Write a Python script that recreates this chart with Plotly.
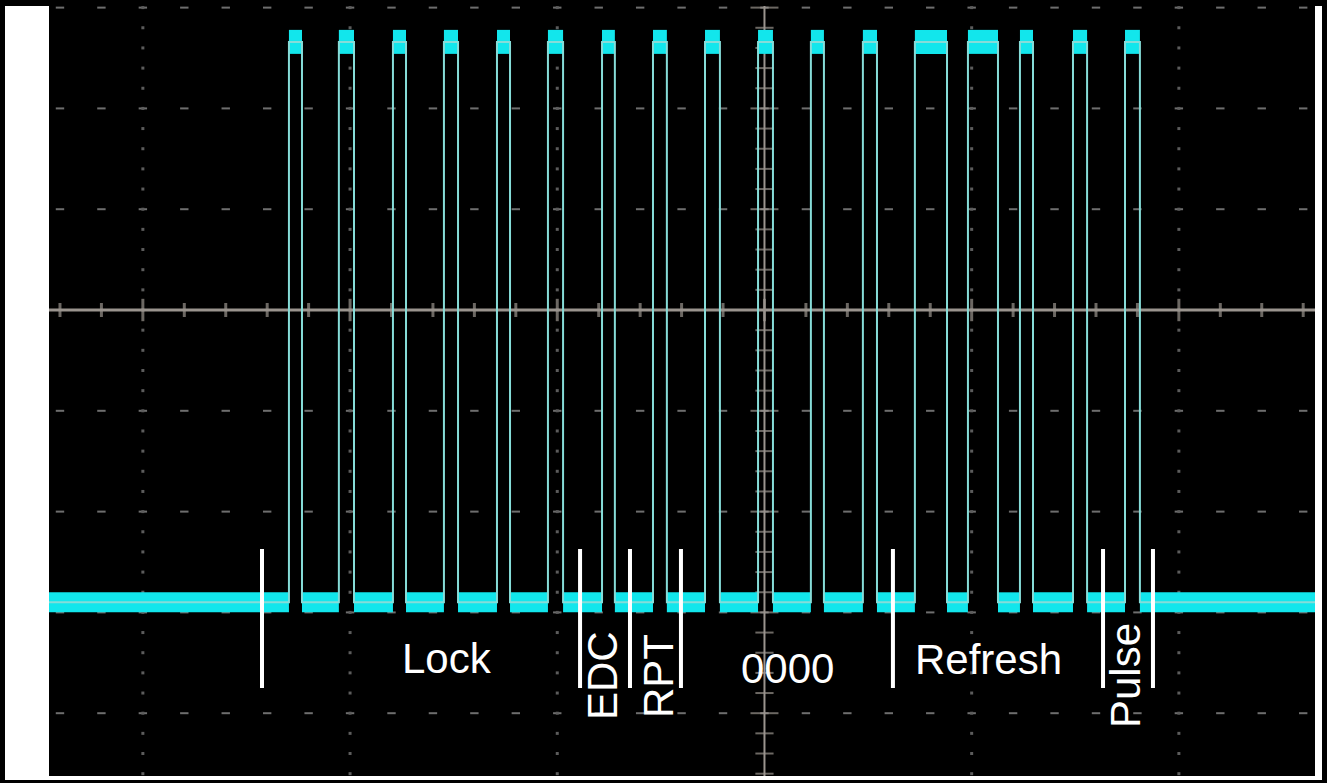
import numpy as np
import plotly.graph_objects as go

# ---- data (oscilloscope divisions) ----
rise_x = [-2.295, -2.054, -1.793, -1.547, -1.291, -1.045, -0.784, -0.538, -0.287,
          -0.031, 0.224, 0.475, 0.726, 0.982, 1.233, 1.489, 1.740]
fall_x = [-2.232, -1.981, -1.730, -1.479, -1.228, -0.972, -0.722, -0.471, -0.215,
          0.041, 0.287, 0.543, 0.881, 1.127, 1.296, 1.557, 1.812]
level_low = -2.90
level_high = 2.66

x_range = [-3.453, 2.657]
y_range = [-4.623, 3.016]

separator_x = [-2.425, -0.890, -0.649, -0.403, 0.620, 1.634, 1.875]
separator_y = [-2.371, -3.750]

label_text = ["Lock", "EDC", "RPT", "0000", "Refresh", "Pulse"]
label_x = [-1.532, -0.784, -0.514, 0.113, 1.083, 1.740]
label_y = [-3.462, -3.631, -3.631, -3.552, -3.472, -3.631]
label_angle = [0, -90, -90, 0, 0, -90]

grid_x_major = [-3, -2, -1, 1, 2]
grid_y_major = [-4, -3, -2, -1, 1, 2, 3]

# ---- build figure ----
fig = go.Figure()

# graticule dots
minor_x = np.round(np.arange(-3.4, 2.65, 0.2), 3)
minor_y = np.round(np.arange(-4.6, 3.01, 0.2), 3)
rx, ry = [], []
for gy in grid_y_major:
    rx += list(minor_x)
    ry += [gy] * len(minor_x)
fig.add_trace(go.Scatter(x=rx, y=ry, mode="markers",
                         marker=dict(symbol="line-ew", size=6,
                                     line=dict(width=2, color="#6e6e6e")),
                         hoverinfo="skip", showlegend=False))
cx, cy = [], []
for gx in grid_x_major:
    cx += [gx] * len(minor_y)
    cy += list(minor_y)
fig.add_trace(go.Scatter(x=cx, y=cy, mode="markers",
                         marker=dict(symbol="square", size=3, color="#5c5c5c",
                                     line=dict(width=0)),
                         hoverinfo="skip", showlegend=False))

axis_col = "#9a948e"
# center axes
fig.add_trace(go.Scatter(x=x_range, y=[0, 0], mode="lines",
                         line=dict(color=axis_col, width=3),
                         hoverinfo="skip", showlegend=False))
fig.add_trace(go.Scatter(x=[0, 0], y=y_range, mode="lines",
                         line=dict(color=axis_col, width=2),
                         hoverinfo="skip", showlegend=False))
fig.add_trace(go.Scatter(x=list(minor_x), y=[0] * len(minor_x), mode="markers",
                         marker=dict(symbol="line-ns",
                                     size=[16 if abs(v - round(v)) < 1e-6 else 10 for v in minor_x],
                                     line=dict(width=3, color=axis_col)),
                         hoverinfo="skip", showlegend=False))
fig.add_trace(go.Scatter(x=[0] * len(minor_y), y=list(minor_y), mode="markers",
                         marker=dict(symbol="line-ew",
                                     size=[20 if abs(v - round(v)) < 1e-6 else 13 for v in minor_y],
                                     line=dict(width=2, color=axis_col)),
                         hoverinfo="skip", showlegend=False))

# signal: low band segments
low_x, low_y = [], []
starts = [x_range[0]] + fall_x
ends = rise_x + [x_range[1]]
for s, e in zip(starts, ends):
    low_x += [s, e, None]
    low_y += [level_low, level_low, None]
fig.add_trace(go.Scatter(x=low_x, y=low_y, mode="lines",
                         line=dict(color="#12e6ec", width=20),
                         hoverinfo="skip", showlegend=False))
# high band segments
hi_x, hi_y = [], []
for r, f in zip(rise_x, fall_x):
    hi_x += [r, f, None]
    hi_y += [level_high, level_high, None]
fig.add_trace(go.Scatter(x=hi_x, y=hi_y, mode="lines",
                         line=dict(color="#12e6ec", width=24),
                         hoverinfo="skip", showlegend=False))
# thin trace path
sx, sy = [x_range[0]], [level_low]
for r, f in zip(rise_x, fall_x):
    sx += [r, r, f, f]
    sy += [level_low, level_high, level_high, level_low]
sx.append(x_range[1])
sy.append(level_low)
fig.add_trace(go.Scatter(x=sx, y=sy, mode="lines",
                         line=dict(color="#86dcd8", width=2),
                         hoverinfo="skip", showlegend=False))

# separators
for xv in separator_x:
    fig.add_shape(type="line", xref="x", yref="y", x0=xv, x1=xv,
                  y0=separator_y[0], y1=separator_y[1],
                  line=dict(color="white", width=4), layer="above")

# labels
for t, xv, yv, a in zip(label_text, label_x, label_y, label_angle):
    fig.add_annotation(x=xv, y=yv, xref="x", yref="y", text=t, showarrow=False,
                       textangle=a,
                       font=dict(family="Liberation Sans, Arial", size=42, color="white"))

# outer black frame (paper coords; plot area spans px 49..1315 x 6..776)
W, H = 1266.0, 770.0
def px(v):
    return (v - 49) / W
def py(v):
    return (776 - v) / H
frame = [
    (0, 5, 0, 783),        # left
    (1322, 1327, 0, 783),  # right
    (0, 1327, 0, 6),       # top
    (0, 1327, 780, 783),   # bottom
]
for x0, x1, y0, y1 in frame:
    fig.add_shape(type="rect", xref="paper", yref="paper",
                  x0=px(x0), x1=px(x1), y0=py(y1), y1=py(y0),
                  fillcolor="black", line=dict(width=0), layer="above")

fig.update_xaxes(range=x_range, showgrid=False, zeroline=False, showticklabels=False,
                 ticks="", showline=False, fixedrange=True)
fig.update_yaxes(range=y_range, showgrid=False, zeroline=False, showticklabels=False,
                 ticks="", showline=False, fixedrange=True)
fig.update_layout(width=1327, height=783,
                  margin=dict(l=49, r=12, t=6, b=7, pad=0),
                  paper_bgcolor="white", plot_bgcolor="black",
                  showlegend=False, hovermode=False)
fig.write_html("out.html", config={"displayModeBar": False},
               post_script="document.body.style.margin='0';document.body.style.overflow='hidden';")
